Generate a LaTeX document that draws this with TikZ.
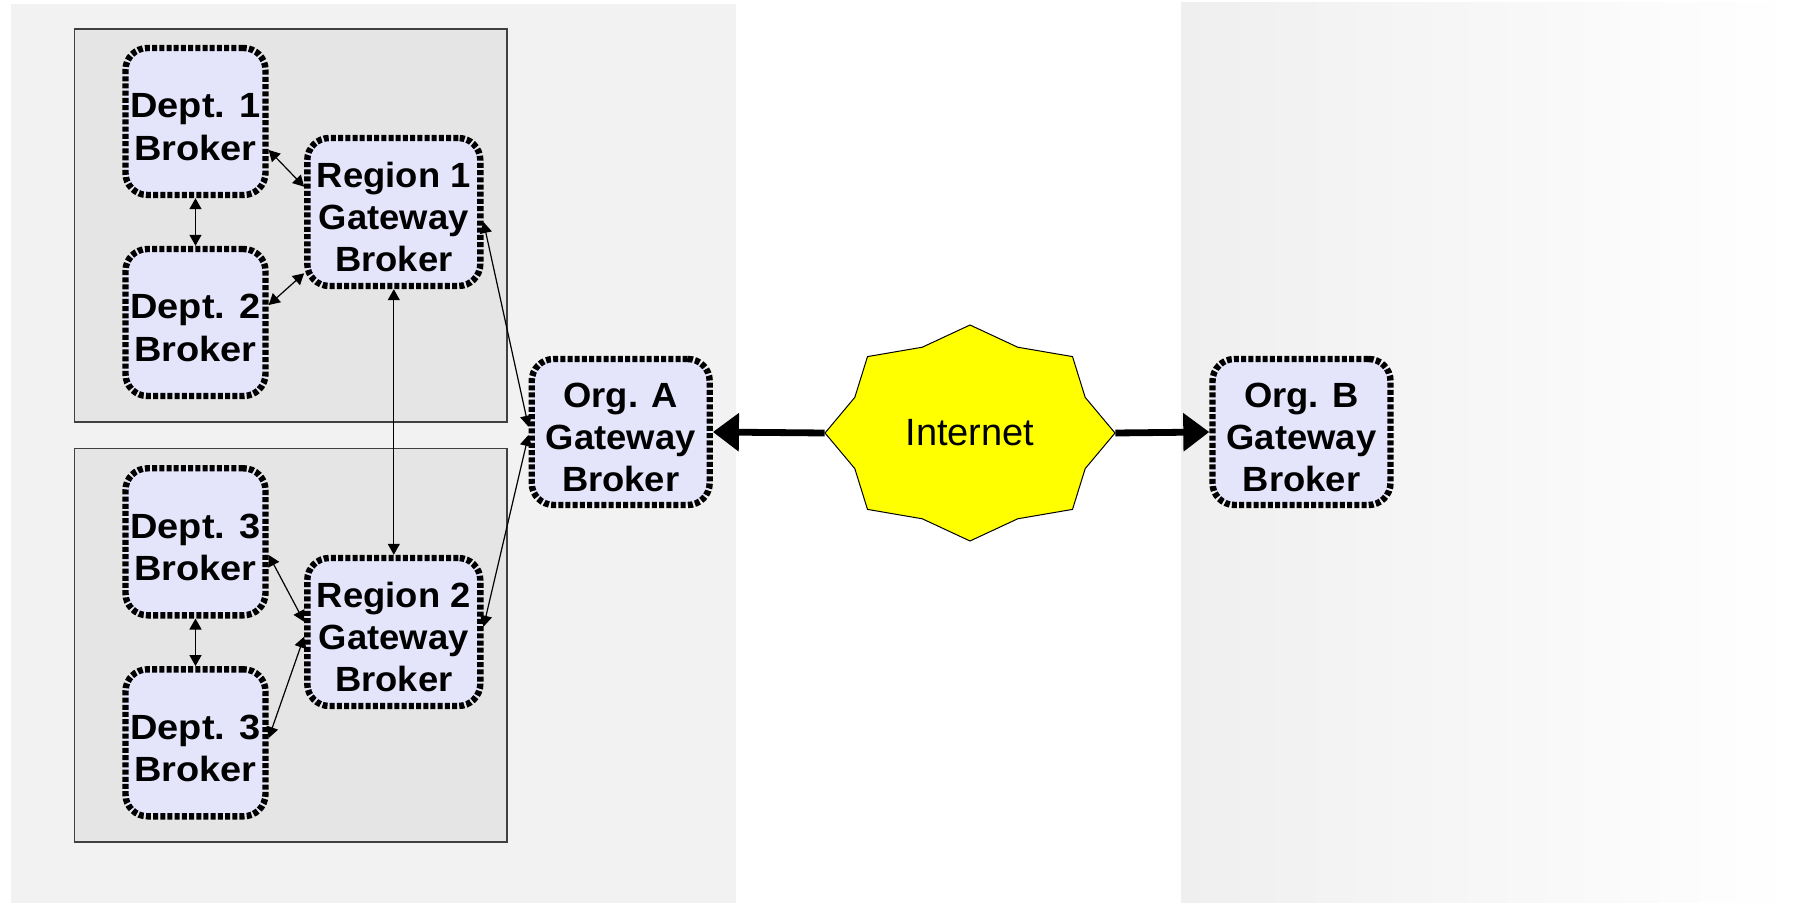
\documentclass[tikz,border=0pt]{standalone}
\usepackage{fontspec}
\setmainfont{Liberation Sans}
\newfontfamily\deptfont{Liberation Sans}[FakeStretch=1.085]
\newfontfamily\gwfont{Liberation Sans}[FakeStretch=1.04]
\usetikzlibrary{arrows.meta,calc}

\definecolor{panelgray}{HTML}{F2F2F2}
\definecolor{panelfade}{HTML}{EFEFEF}
\definecolor{groupgray}{HTML}{E5E5E5}
\definecolor{groupline}{HTML}{404040}
\definecolor{brokerfill}{HTML}{E4E4FB}
\definecolor{cloudyellow}{HTML}{FFFF00}

% centred broker caption, set a little below the geometric centre
\newcommand\brokertext[1]{\raisebox{-4.5pt}[\height][\depth]{%
  \begin{tabular}{@{}c@{}}#1\end{tabular}}}

\tikzset{
  broker/.style={draw=black, line width=3.2pt, dash pattern=on 2.5pt off 1.1pt,
    rounded corners=11pt, fill=brokerfill, inner sep=0pt, text=black},
  deptbox/.style={broker, minimum width=70pt, minimum height=73.5pt,
    font=\deptfont\bfseries\fontsize{17.5}{21.2}\selectfont},
  gwbox/.style={broker, minimum width=86.5pt, minimum height=74pt,
    font=\gwfont\bfseries\fontsize{17.5}{21}\selectfont},
  orgbox/.style={broker, minimum width=89pt, minimum height=73pt,
    font=\gwfont\bfseries\fontsize{17.5}{21}\selectfont},
  groupbox/.style={fill=groupgray, draw=groupline, line width=0.65pt},
  link/.style={line width=0.6pt,
    arrows={Triangle[length=5.5pt,width=6pt]-Triangle[length=5.5pt,width=6pt]}},
  bigarrow/.style={line width=3.4pt, arrows={-Triangle[length=13pt,width=18.5pt]}},
  cloud/.style={fill=cloudyellow, draw=black, line width=0.5pt, line join=miter},
}

\begin{document}
\begin{tikzpicture}[x=0.5pt, y=-0.5pt]
\useasboundingbox (0,0) rectangle (1794,903);

% organisation panels
\fill[panelgray] (11,4) rectangle (735.5,903);
\shade[left color=panelfade, right color=white] (1181,3) rectangle (1794,903);

% regional groups
\draw[groupbox] (74.5,29) rectangle (507,422);
\draw[groupbox] (74.5,448.5) rectangle (507,842);

% brokers
\node[deptbox] (d1) at (195.5,121.5) {\brokertext{Dept. 1\\Broker}};
\node[deptbox] (d2) at (195.5,322.5) {\brokertext{Dept. 2\\Broker}};
\node[deptbox] (d3) at (195.5,541.8) {\brokertext{Dept. 3\\Broker}};
\node[deptbox] (d4) at (195.5,742.8) {\brokertext{Dept. 3\\Broker}};
\node[gwbox] (r1) at (393.8,212) {\brokertext{Region 1\\Gateway\\Broker}};
\node[gwbox] (r2) at (393.8,632) {\brokertext{Region 2\\Gateway\\Broker}};
\node[orgbox] (oa) at (620.7,432) {\brokertext{Org. A\\Gateway\\Broker}};
\node[orgbox] (ob) at (1301.5,432) {\brokertext{Org. B\\Gateway\\Broker}};

% the Internet cloud
\coordinate (ic) at (970,433);
\begin{scope}[shift={(ic)}]
  \draw[cloud] (145,0) -- (115.2,-35.6) -- (102.5,-76.4) -- (47.7,-85.8)
    -- (0,-108) -- (-47.7,-85.8) -- (-102.5,-76.4) -- (-115.2,-35.6)
    -- (-145,0) -- (-115.2,35.6) -- (-102.5,76.4) -- (-47.7,85.8)
    -- (0,108) -- (47.7,85.8) -- (102.5,76.4) -- (115.2,35.6) -- cycle;
\end{scope}
\node[minimum width=145pt, minimum height=108pt, inner sep=0pt,
      font=\fontsize{19}{23}\selectfont] (inet) at (ic) {Internet};

% broker links
\draw[link] (d1.south) -- (d2.north);
\draw[link] (d3.south) -- (d4.north);
\draw[link] (r1.south) -- (r2.north);
\draw[link] ([yshift=-14.25pt]d1.east) -- ([yshift=12.65pt]r1.west);
\draw[link] ([yshift=8.75pt]d2.east) -- ([yshift=-30.65pt]r1.west);
\draw[link] ([yshift=-6.6pt]d3.east) -- ([yshift=5.15pt]r2.west);
\draw[link] ([yshift=2.4pt]d4.east) -- ([yshift=-2.35pt]r2.west);
\draw[link] ([yshift=-5pt]r1.east) -- ([yshift=2.65pt]oa.west);
\draw[link] ([yshift=2.65pt]r2.east) -- ([yshift=-1.5pt]oa.west);

% Internet uplinks
\draw[bigarrow] (inet.west) -- (oa.east);
\draw[bigarrow] (inet.east) -- (ob.west);
\end{tikzpicture}
\end{document}
